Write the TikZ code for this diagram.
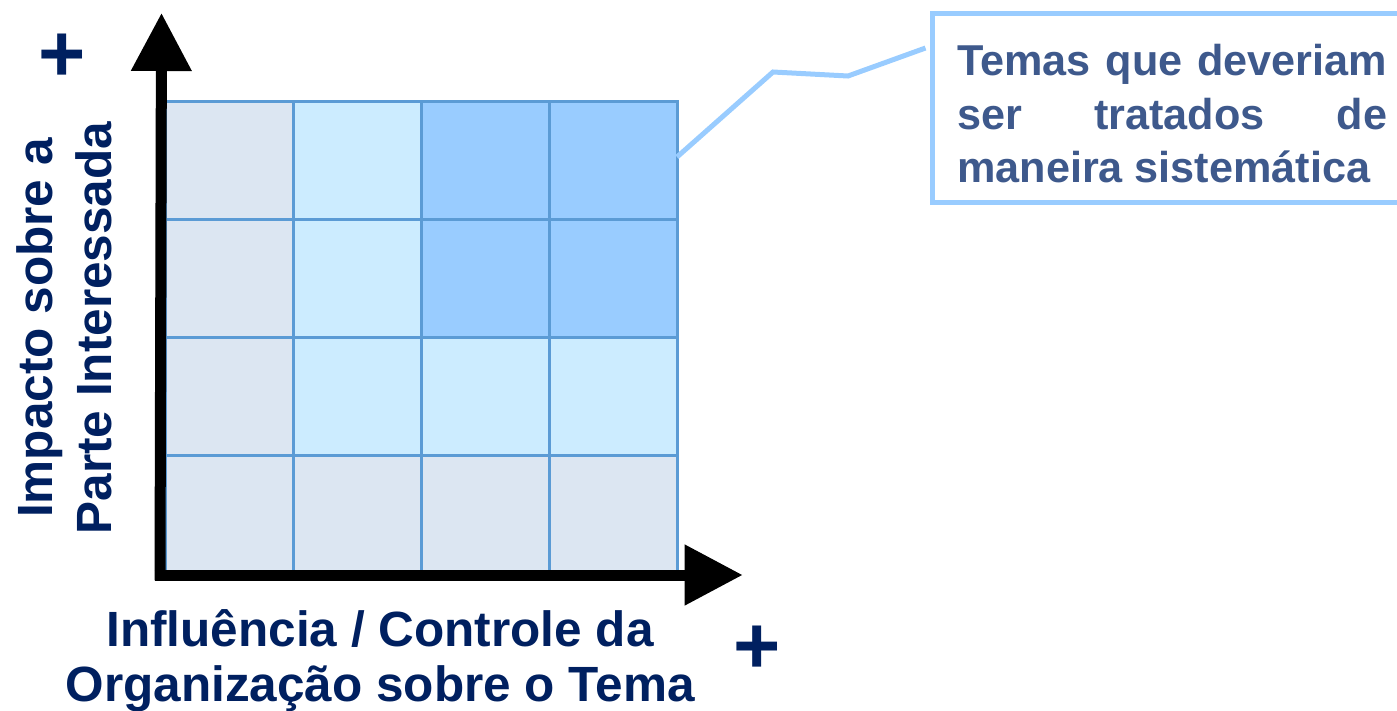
\documentclass[tikz,border=0pt]{standalone}
\usepackage{fontspec}
\setmainfont{Liberation Sans}
\usetikzlibrary{arrows.meta,calc}
\definecolor{navy}{HTML}{002060}
\definecolor{callblue}{HTML}{99CCFF}
\definecolor{gridblue}{HTML}{5B9BD5}
\definecolor{cellgray}{HTML}{DCE6F2}
\definecolor{cellcyan}{HTML}{CCECFF}
\definecolor{celldark}{HTML}{99CCFF}
\definecolor{calltext}{HTML}{3E598C}
\begin{document}
\begin{tikzpicture}[x=1pt,y=-1pt,
  cell/.style={draw=gridblue, line width=3pt, minimum width=128pt, minimum height=118pt, inner sep=0pt, outer sep=0pt},
  axisline/.style={line width=11pt, -{Triangle[length=58pt,width=58pt]}},
  axislabel/.style={font=\fontsize{49.5}{59}\selectfont\bfseries, text=navy, align=center, inner sep=0pt},
  xlabelstyle/.style={font=\fontsize{49.5}{55}\selectfont\bfseries, text=navy, align=center, inner sep=0pt},
  plussign/.style={font=\fontsize{81}{81}\selectfont\bfseries, text=navy, inner sep=0pt},
  callbox/.style={draw=callblue, line width=5pt, fill=white, inner sep=0pt, outer sep=0pt},
  calltextstyle/.style={font=\fontsize{43.2}{53.5}\selectfont\bfseries, text=calltext, text width=430pt, align=justify, inner sep=0pt},
  connector/.style={draw=callblue, line width=5pt}]
\useasboundingbox (0,0) rectangle (1397,710);
\clip (0,0) rectangle (1397,710);
% grid cells
\foreach \r/\c/\col in {1/1/cellgray,1/2/cellcyan,1/3/celldark,1/4/celldark,
                        2/1/cellgray,2/2/cellcyan,2/3/celldark,2/4/celldark,
                        3/1/cellgray,3/2/cellcyan,3/3/cellcyan,3/4/cellcyan,
                        4/1/cellgray,4/2/cellgray,4/3/cellgray,4/4/cellgray}
  \node[cell, fill=\col] (c\r\c) at ({229+128*(\c-1)},{160+118*(\r-1)}) {};
% callout
\node[callbox, anchor=north west, minimum width=500pt, minimum height=189pt] (callout) at (932.5,13.5) {};
\node[calltextstyle, anchor=north west] (ctext) at (957,44)
  {Temas que deveriam\linebreak ser tratados de\linebreak maneira sistemática};
\draw[connector] ($(c14.east)+(0,-3)$) -- (773,72) -- (848,76) -- ($(callout.north west)+(-7,34.5)$);
% axes
\coordinate (ybase) at (160,580.5);
\coordinate (ytip) at (161.5,13);
\coordinate (xbase) at (154.5,575);
\coordinate (xtip) at (742.7,575);
\draw[axisline] (ybase) -- (ytip);
\draw[axisline] (xbase) -- (xtip);
% labels
\node[axislabel, rotate=90] (ylabel) at (64.5,328) {Impacto sobre a\\Parte Interessada};
\node[xlabelstyle] (xlabel) at (380,661) {Influência / Controle da\\Organização sobre o Tema};
\node[plussign] (yplus) at (62,58) {+};
\node[plussign] (xplus) at (757,650) {+};
\end{tikzpicture}
\end{document}
